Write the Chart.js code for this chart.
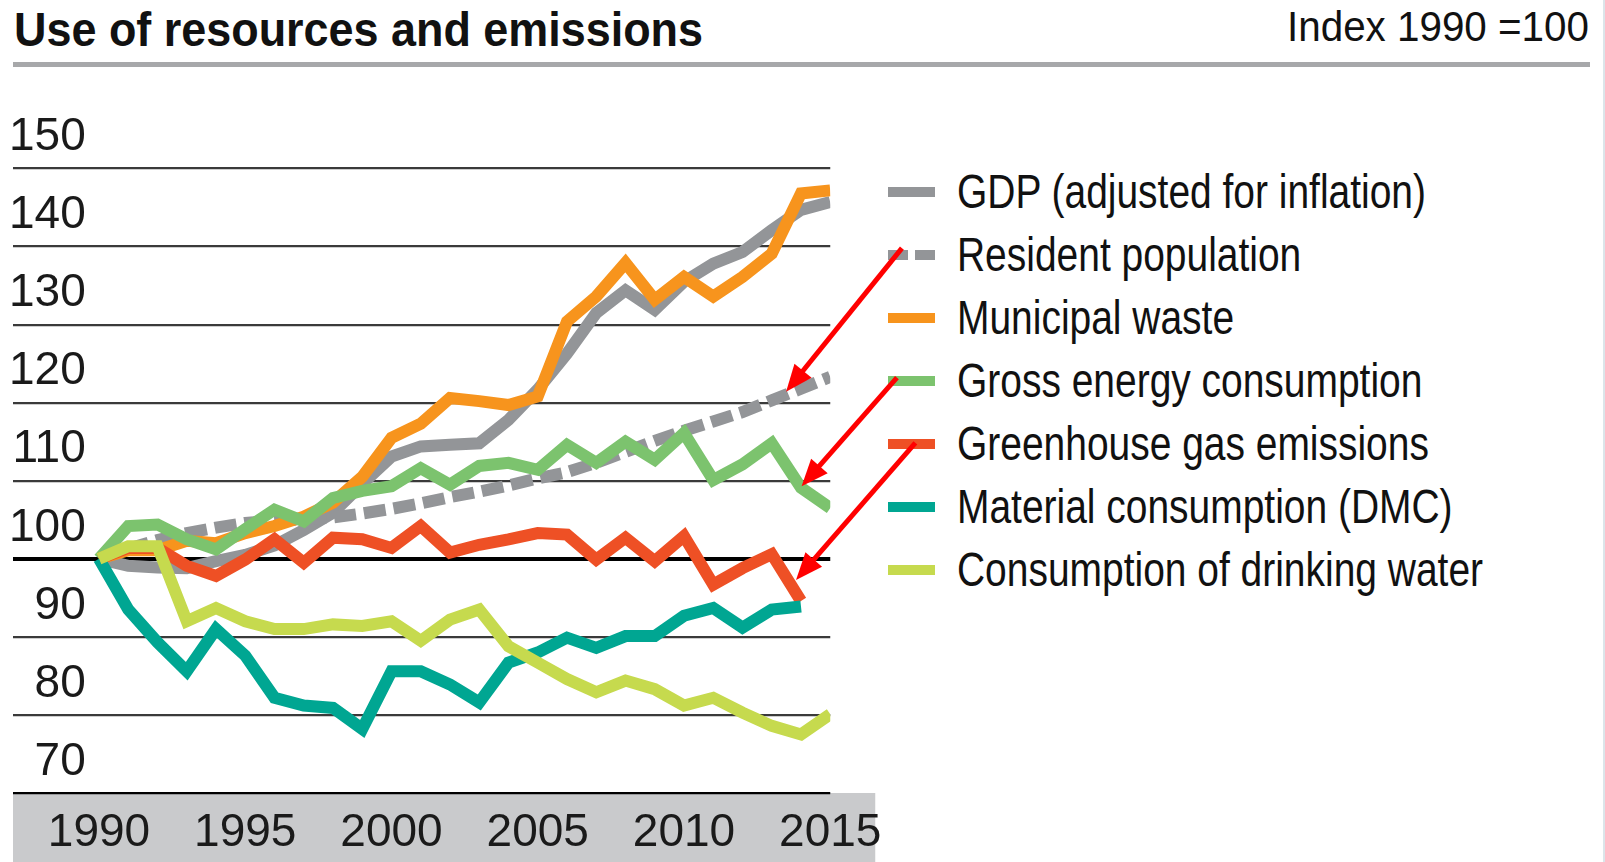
<!DOCTYPE html>
<html>
<head>
<meta charset="utf-8">
<script src="https://cdn.jsdelivr.net/npm/chart.js@4.4.0/dist/chart.umd.min.js"></script>
<style>
  html, body { margin: 0; padding: 0; background: #fff; }
  #page { position: relative; width: 1605px; height: 862px; overflow: hidden; }
  .txt { position: absolute; white-space: nowrap; color: #111; transform-origin: left center; }
  #title { left: 14px; top: 5px; font: bold 49px/49px "Liberation Sans", sans-serif; }
  #unit { top: 5px; font: 43px/43px "Liberation Sans", sans-serif; }
  #rule { position: absolute; left: 13px; top: 62px; width: 1577px; height: 5px; background: #a7a8aa; }
  #edge { position: absolute; right: 0; top: 0; width: 2px; height: 862px; background: #dce5ea; }
  #legend { position: absolute; left: 888px; top: 0; }
  .row { position: absolute; left: 0; height: 48px; width: 700px; }
  .sw { position: absolute; left: 0; top: 19px; width: 47px; height: 10px; }
  .lab { position: absolute; left: 69px; top: 0; font: 48px/48px "Liberation Sans", sans-serif; color: #111; white-space: nowrap; transform-origin: left center; }
  #wrap { position: absolute; left: 0; top: 0; width: 1605px; height: 862px; }
</style>
</head>
<body>
<div id="page">
  <div id="title" class="txt">Use of resources and emissions</div>
  <div id="unit" class="txt">Index 1990 =100</div>
  <div id="rule"></div>
  <div id="edge"></div>
  <div id="legend"></div>
  <div id="wrap"><canvas id="chart"></canvas></div>
</div>
<script>
const years = [1990, 1991, 1992, 1993, 1994, 1995, 1996, 1997, 1998, 1999, 2000, 2001, 2002,
  2003, 2004, 2005, 2006, 2007, 2008, 2009, 2010, 2011, 2012, 2013, 2014, 2015];
const xTicks = [1990, 1995, 2000, 2005, 2010, 2015];

const gdp = [100, 99.1, 98.9, 98.8, 99.7, 100.5, 101.7, 103.7, 105.9, 109.6, 113.1, 114.4,
  114.6, 114.8, 117.8, 121.7, 126.3, 131.5, 134.4, 131.9, 135.5, 137.8, 139.3, 142.1, 144.7, 145.7];
const population = [100, 101.3, 102.4, 103.3, 104.0, 104.6, 104.9, 105.1, 105.3, 105.8, 106.4,
  107.1, 107.9, 108.6, 109.4, 110.3, 111.1, 112.3, 113.7, 115.1, 116.4, 117.6, 118.8, 120.3, 121.8, 123.3];
const waste = [100, 101.1, 101.1, 102.3, 102.0, 103.3, 104.2, 105.4, 107.2, 110.5, 115.5, 117.3,
  120.6, 120.2, 119.7, 120.8, 130.4, 133.6, 137.9, 133.2, 136.1, 133.6, 136.1, 139.1, 146.8, 147.2];
const energy = [100, 104.2, 104.4, 102.5, 101.2, 103.8, 106.3, 104.8, 107.8, 108.7, 109.3, 111.6,
  109.5, 111.9, 112.3, 111.4, 114.6, 112.3, 115.0, 112.7, 116.1, 110.1, 112.1, 114.8, 109.1, 106.5];
const greenhouse = [100, 101.4, 101.4, 99.1, 97.8, 99.9, 102.5, 99.5, 102.7, 102.5, 101.4, 104.2,
  100.8, 101.8, 102.5, 103.3, 103.1, 99.9, 102.7, 99.7, 102.9, 96.7, 98.8, 100.6, 94.6];
const material = [100, 93.5, 89.3, 85.6, 91.0, 87.6, 82.2, 81.2, 80.9, 78.2, 85.6, 85.6,
  83.9, 81.6, 86.7, 88.0, 89.9, 88.6, 90.1, 90.1, 92.7, 93.7, 91.2, 93.5, 93.9];
const water = [100, 101.6, 101.6, 92.0, 93.7, 92.0, 91.0, 91.0, 91.6, 91.4, 92.0, 89.5,
  92.2, 93.5, 88.8, 86.7, 84.6, 82.9, 84.4, 83.3, 81.2, 82.2, 80.3, 78.6, 77.5, 80.1];

const seriesNames = ["GDP (adjusted for inflation)", "Resident population", "Municipal waste",
  "Gross energy consumption", "Greenhouse gas emissions", "Material consumption (DMC)",
  "Consumption of drinking water"];
const seriesValues = [gdp, population, waste, energy, greenhouse, material, water];
const seriesColors = ["#939598", "#939598", "#f7941d", "#7cc36e", "#ee5025", "#00a692", "#c6da4e"];

// red arrows: [year, index] from the legend to the line ends
const arrowFrom = [[2017.45, 139.8], [2017.28, 123.2], [2017.91, 114.85]];
const arrowTo = [[2013.49, 121.4], [2014.02, 109.3], [2013.83, 97.3]];

function toPoints(values) {
  return values.map((v, i) => ({ x: years[i], y: v }));
}

const datasets = seriesNames.map((name, i) => ({
  label: name,
  data: toPoints(seriesValues[i]),
  borderColor: seriesColors[i],
  backgroundColor: seriesColors[i],
  borderWidth: 12,
  borderDash: i === 1 ? [22, 8] : [],
  borderCapStyle: "butt",
  borderJoinStyle: "miter",
  pointRadius: 0,
  tension: 0,
  order: seriesNames.length - i,
}));

const bandPlugin = {
  id: "axisBand",
  beforeDraw(chart) {
    const { ctx, chartArea } = chart;
    ctx.save();
    ctx.fillStyle = "#c9cacc";
    ctx.fillRect(chartArea.left, chartArea.bottom, chartArea.right - chartArea.left + 45, chart.height - chartArea.bottom);
    ctx.restore();
  },
};

const arrowPlugin = {
  id: "arrows",
  afterDraw(chart) {
    const xs = chart.scales.x;
    const ys = chart.scales.y;
    const ctx = chart.ctx;
    ctx.save();
    ctx.strokeStyle = "#ff0000";
    ctx.fillStyle = "#ff0000";
    ctx.lineWidth = 5;
    arrowFrom.forEach((from, i) => {
      const x0 = xs.getPixelForValue(from[0]);
      const y0 = ys.getPixelForValue(from[1]);
      const x1 = xs.getPixelForValue(arrowTo[i][0]);
      const y1 = ys.getPixelForValue(arrowTo[i][1]);
      const ang = Math.atan2(y1 - y0, x1 - x0);
      const head = 27;
      const half = 11;
      const bx = x1 - head * Math.cos(ang);
      const by = y1 - head * Math.sin(ang);
      ctx.beginPath();
      ctx.moveTo(x0, y0);
      ctx.lineTo(bx + 2 * Math.cos(ang), by + 2 * Math.sin(ang));
      ctx.stroke();
      ctx.beginPath();
      ctx.moveTo(x1, y1);
      ctx.lineTo(bx - half * Math.sin(ang), by + half * Math.cos(ang));
      ctx.lineTo(bx + half * Math.sin(ang), by - half * Math.cos(ang));
      ctx.closePath();
      ctx.fill();
    });
    ctx.restore();
  },
};

const tickFont = { family: "'Liberation Sans', sans-serif", size: 46 };

const chart = new Chart(document.getElementById("chart").getContext("2d"), {
  type: "line",
  data: { datasets: datasets },
  options: {
    responsive: true,
    maintainAspectRatio: false,
    animation: false,
    devicePixelRatio: 1,
    layout: { padding: { left: 13, top: 168.5, right: 774.75, bottom: 0 } },
    plugins: {
      legend: { display: false },
      tooltip: { enabled: false },
    },
    scales: {
      x: {
        type: "linear",
        min: 1987.06,
        max: 2015,
        afterBuildTicks: (scale) => {
          scale.ticks = xTicks.map((v) => ({ value: v }));
        },
        afterFit: (scale) => {
          scale.height = 69;
        },
        grid: { display: false },
        border: { display: false },
        ticks: {
          font: tickFont,
          color: "#1a1a1a",
          padding: 5,
          maxRotation: 0,
          autoSkip: false,
          callback: (v) => String(v),
        },
      },
      y: {
        min: 70,
        max: 150,
        afterFit: (scale) => {
          scale.width = 0;
        },
        border: { display: false },
        grid: {
          drawTicks: false,
          color: (c) => (c.tick && (c.tick.value === 100 || c.tick.value === 70) ? "#000" : "#3a3a3a"),
          lineWidth: (c) => (c.tick && c.tick.value === 100 ? 4 : 2.2),
        },
        ticks: {
          stepSize: 10,
          mirror: true,
          crossAlign: "far",
          padding: -4,
          labelOffset: -31,
          font: tickFont,
          color: "#1a1a1a",
        },
      },
    },
  },
  plugins: [bandPlugin, arrowPlugin],
});

// legend built from the chart's own datasets
const legendBox = document.getElementById("legend");
chart.data.datasets.forEach((ds, i) => {
  const row = document.createElement("div");
  row.className = "row";
  row.style.top = (191.5 + 63.1 * i - 24) + "px";
  const sw = document.createElement("div");
  sw.className = "sw";
  if (ds.borderDash.length) {
    sw.style.background = "repeating-linear-gradient(to right, " + ds.borderColor + " 0 20px, transparent 20px 27px)";
  } else {
    sw.style.background = ds.borderColor;
  }
  const lab = document.createElement("div");
  lab.className = "lab";
  lab.textContent = ds.label;
  row.appendChild(sw);
  row.appendChild(lab);
  legendBox.appendChild(row);
});

// squeeze texts to the widths of the original condensed type
function squeeze(el, target) {
  const w = el.getBoundingClientRect().width;
  if (w > 0) el.style.transform = "scaleX(" + (target / w) + ")";
}
const labs = document.querySelectorAll(".lab");
const labW = labs[0].getBoundingClientRect().width;
labs.forEach((el) => { el.style.transform = "scaleX(" + (469 / labW) + ")"; });
const title = document.getElementById("title");
squeeze(title, 689);
const unit = document.getElementById("unit");
unit.style.left = (1589 - 302) + "px";
squeeze(unit, 302);
</script>
</body>
</html>
